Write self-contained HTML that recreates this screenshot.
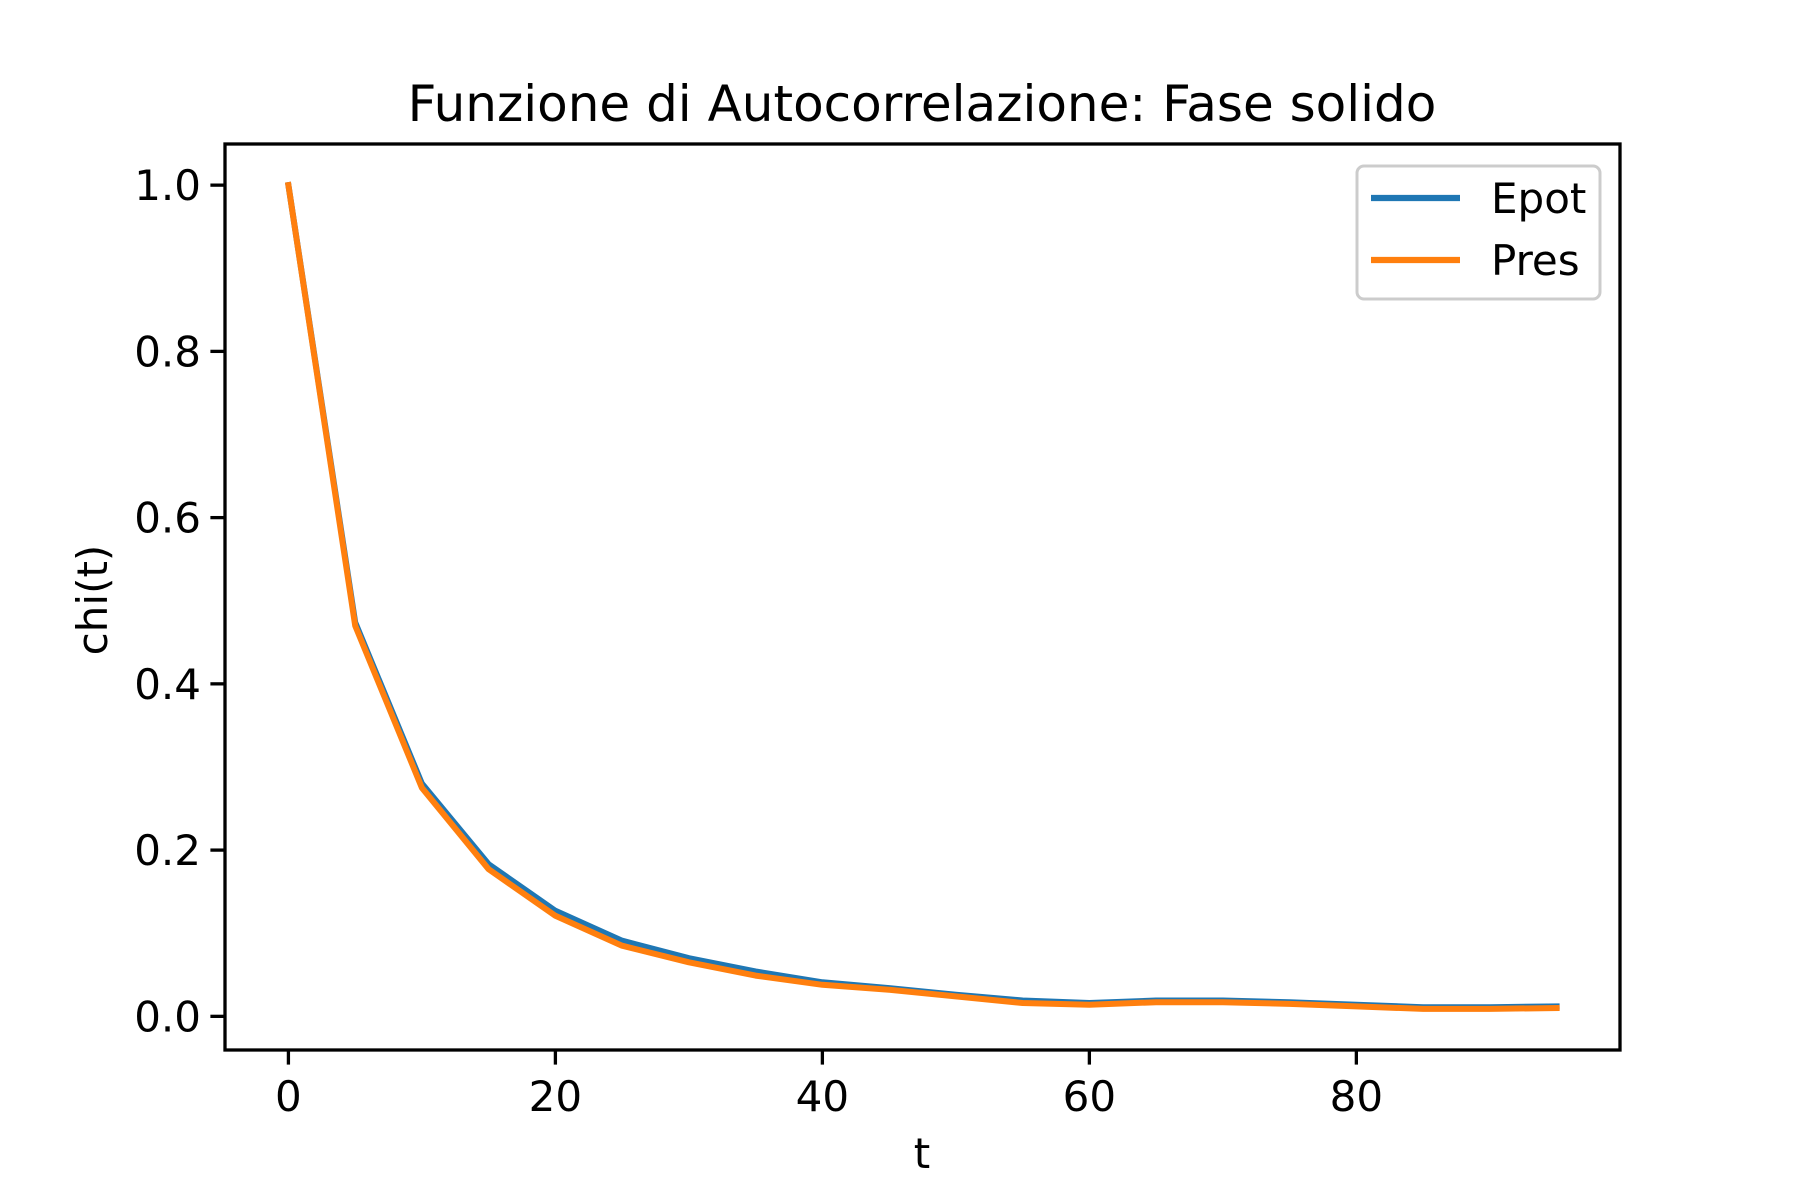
<!DOCTYPE html>
<html><head><meta charset="utf-8"><style>
html,body{margin:0;padding:0;background:#fff}
svg{display:block;font-family:"DejaVu Sans","Liberation Sans",sans-serif}
</style></head><body>
<svg id="chart" width="1800" height="1200" viewBox="0 0 1800 1200" xmlns="http://www.w3.org/2000/svg">
<rect width="1800" height="1200" fill="#fff"/>
<text x="922" y="121" font-size="50" text-anchor="middle">Funzione di Autocorrelazione: Fase solido</text>
<g id="plot"></g>
<text x="922" y="1168" font-size="42" text-anchor="middle">t</text>
<text transform="translate(107,600) rotate(-90)" font-size="42" text-anchor="middle">chi(t)</text>
<g>
<rect x="1357" y="166" width="243" height="133" rx="7" fill="#fff" fill-opacity="0.8" stroke="#ccc" stroke-width="3"/>
<line x1="1371" x2="1460" y1="198" y2="198" stroke="#1f77b4" stroke-width="6.25"/>
<text x="1491" y="213" font-size="42">Epot</text>
<line x1="1371" x2="1460" y1="260" y2="260" stroke="#ff7f0e" stroke-width="6.25"/>
<text x="1491" y="275" font-size="42">Pres</text>
</g>
</svg>
<script>
const tValues = [0,5,10,15,20,25,30,35,40,45,50,55,60,65,70,75,80,85,90,95];
const epotValues = [1.0,0.474,0.28,0.183,0.127,0.091,0.070,0.054,0.041,0.034,0.026,0.019,0.016,0.019,0.019,0.017,0.014,0.011,0.011,0.012];
const presValues = [1.0,0.470,0.275,0.177,0.121,0.085,0.065,0.049,0.038,0.032,0.024,0.016,0.014,0.017,0.017,0.015,0.012,0.009,0.009,0.010];
const xTicks = [0,20,40,60,80];
const yTicks = [0.0,0.2,0.4,0.6,0.8,1.0];
const yTickLabels = ["0.0","0.2","0.4","0.6","0.8","1.0"];

const L=225,R=1620,T=144,B=1050;
const xmin=-4.75,xmax=99.75,ymin=-0.0405,ymax=1.0495;
const sx=v=>L+(v-xmin)/(xmax-xmin)*(R-L);
const sy=v=>B-(v-ymin)/(ymax-ymin)*(B-T);
const NS="http://www.w3.org/2000/svg";
const g=document.getElementById('plot');
function mk(tag,attrs){const e=document.createElementNS(NS,tag);for(const k in attrs)e.setAttribute(k,attrs[k]);g.appendChild(e);return e;}

function series(vals,color,name){
  const d=tValues.map((t,i)=>(i?'L':'M')+sx(t).toFixed(1)+','+sy(vals[i]).toFixed(1)).join(' ');
  const p=mk('path',{d:d,fill:'none',stroke:color,'stroke-width':6,'stroke-linejoin':'round','stroke-linecap':'square'});
  
  
}
series(epotValues,'#1f77b4','epot-line');
series(presValues,'#ff7f0e','pres-line');

xTicks.forEach(v=>{
  const tk=mk('line',{x1:sx(v),x2:sx(v),y1:B,y2:B+14.6,stroke:'#000','stroke-width':3.3});
  
  
  const tx=mk('text',{x:sx(v),y:B+61,'font-size':42,'text-anchor':'middle'});
  tx.textContent=String(v);
  
  
});
yTicks.forEach((v,i)=>{
  const tk=mk('line',{x1:L-14.6,x2:L,y1:sy(v),y2:sy(v),stroke:'#000','stroke-width':3.3});
  
  
  const tx=mk('text',{x:L-24,y:sy(v)+15,'font-size':42,'text-anchor':'end'});
  tx.textContent=yTickLabels[i];
  
  
});
const fr=mk('rect',{x:L,y:T,width:R-L,height:B-T,fill:'none',stroke:'#000','stroke-width':3.3});


</script>
</body></html>
